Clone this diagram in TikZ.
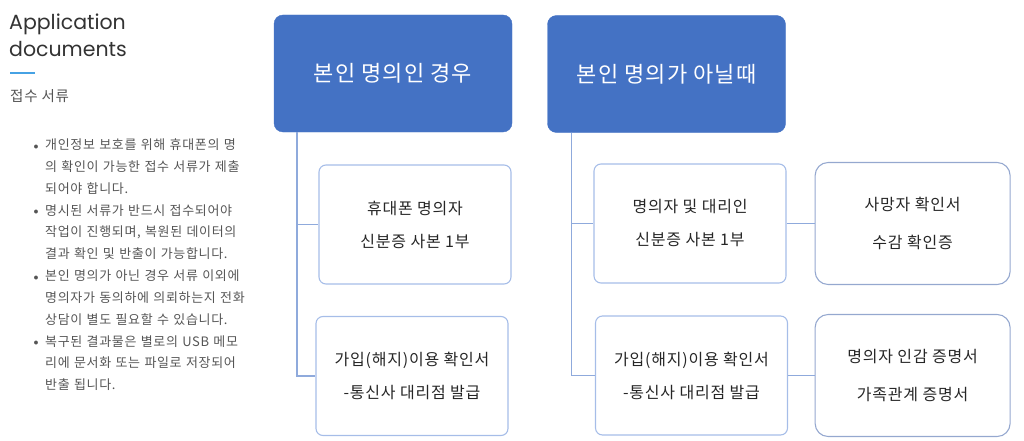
\documentclass[tikz,border=0pt]{standalone}
\usepackage{fontspec}
\usetikzlibrary{positioning}
\newfontfamily\cjk{Noto Sans CJK KR}[LetterSpace=5]
\newfontfamily\titlefont{Poppins}
\definecolor{hdrblue}{HTML}{4472C4}
\definecolor{boxline}{HTML}{A6BDE8}
\definecolor{extraline}{HTML}{95A8CF}
\definecolor{linkblue}{HTML}{8FAADC}
\definecolor{boxtext}{HTML}{262626}
\definecolor{titlegray}{HTML}{333333}
\definecolor{itemgray}{HTML}{555555}
\definecolor{accent}{HTML}{46A2E4}

\begin{document}
\begin{tikzpicture}[x=1pt,y=-1pt,
		header/.style={rectangle,rounded corners=9pt,fill=hdrblue,draw=hdrblue,minimum width=238pt,minimum height=117pt,text=white,font=\cjk\fontsize{22}{26}\selectfont},
		doc box/.style={rectangle,rounded corners=7pt,draw=boxline,line width=1.1pt,minimum width=192pt,minimum height=119pt,align=center,text=boxtext,font=\cjk\fontsize{16}{33}\selectfont},
		extra box/.style={doc box,rounded corners=13pt,draw=extraline,minimum width=195pt,minimum height=122pt,font=\cjk\fontsize{16}{38}\selectfont},
		item text/.style={anchor=base west,inner sep=0pt,text width=215pt,align=left,text=itemgray,font=\cjk\fontsize{13}{21.8}\selectfont},
		dot/.style={anchor=base,inner sep=0pt,text=itemgray,font=\Large},
		link/.style={draw=linkblue,line width=1.4pt}]
		\useasboundingbox (0,0) rectangle (1024,441);

		% left column
		\node[anchor=base west,inner sep=0pt,align=left,text=titlegray,font=\titlefont\fontsize{20.5}{27}\selectfont] (title) at (9,57) {Application\\documents};
		\draw[accent,line width=1.4pt] (10,73) -- (35,73);
		\node[anchor=base west,inner sep=0pt,text=itemgray,font=\cjk\fontsize{14.5}{16}\selectfont] (subtitle) at (10,102) {접수 서류};

		\node[dot] (dot1) at (36,150) {\textbullet};
		\node[item text] (item1) at (45,149.5) {개인정보 보호를 위해 휴대폰의 명\\의 확인이 가능한 접수 서류가 제출\\되어야 합니다.};
		\node[dot] (dot2) at (36,215.5) {\textbullet};
		\node[item text] (item2) at (45,215) {명시된 서류가 반드시 접수되어야\\작업이 진행되며, 복원된 데이터의\\결과 확인 및 반출이 가능합니다.};
		\node[dot] (dot3) at (36,281) {\textbullet};
		\node[item text] (item3) at (45,280.5) {본인 명의가 아닌 경우 서류 이외에\\명의자가 동의하에 의뢰하는지 전화\\상담이 별도 필요할 수 있습니다.};
		\node[dot] (dot4) at (36,346.5) {\textbullet};
		\node[item text] (item4) at (45,346) {복구된 결과물은 별로의 USB 메모\\리에 문서화 또는 파일로 저장되어\\반출 됩니다.};

		% own name
		\node[header] (own) at (393,73.5) {본인 명의인 경우};
		\node[doc box] (own1) at (415,224.5) {휴대폰 명의자\\신분증 사본 1부};
		\node[doc box] (own2) at (412,376) {가입(해지)이용 확인서\\-통신사 대리점 발급};

		% other name
		\node[header] (proxy) at (666.5,74) {본인 명의가 아닐때};
		\node[doc box] (proxy1) at (690,223.5) {명의자 및 대리인\\신분증 사본 1부};
		\node[doc box] (proxy2) at (691.5,375.5) {가입(해지)이용 확인서\\-통신사 대리점 발급};
		\node[extra box, right=28pt of proxy1] (death) {사망자 확인서\\수감 확인증};
		\node[extra box, right=26.5pt of proxy2] (family) {명의자 인감 증명서\\가족관계 증명서};

		\draw[link] ([xshift=23pt]own.south west) |- (own1.west);
		\draw[link] ([xshift=23pt]own.south west) |- (own2.west);
		\draw[link] ([xshift=24pt]proxy.south west) |- (proxy1.west);
		\draw[link] ([xshift=24pt]proxy.south west) |- (proxy2.west);
		\draw[link] (proxy1.east) -- (death.west);
		\draw[link] (proxy2.east) -- (family.west);
\end{tikzpicture}
\end{document}
